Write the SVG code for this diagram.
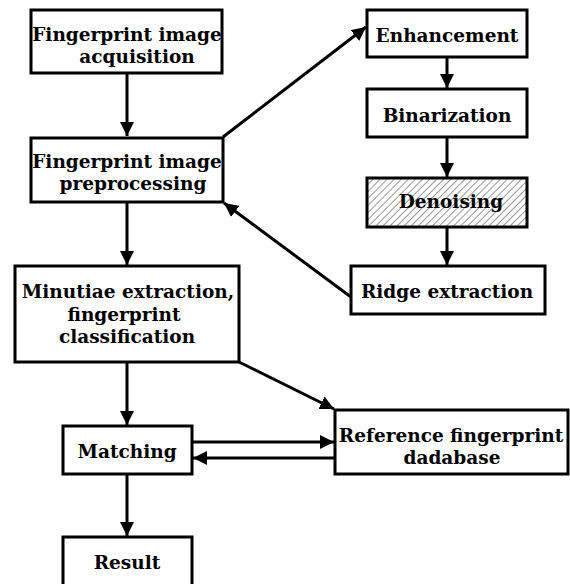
<svg xmlns="http://www.w3.org/2000/svg" width="570" height="584" viewBox="0 0 570 584">
<defs>
<style>
.box{fill:#fff;stroke:#000;stroke-width:3}
.t{font-family:"DejaVu Serif","Liberation Serif",serif;font-weight:bold;font-size:18.5px;fill:#000;text-anchor:middle}
.c{stroke:#000;stroke-width:3;fill:none}
</style>
<marker id="ah" viewBox="0 0 10 10" refX="10" refY="5" markerWidth="14" markerHeight="14" markerUnits="userSpaceOnUse" orient="auto">
<path d="M0,0 L10,5 L0,10 z" fill="#000"/>
</marker>
<pattern id="hatch" width="5" height="5" patternUnits="userSpaceOnUse" patternTransform="rotate(45)">
<rect width="5" height="5" fill="#fff"/>
<line x1="0" y1="0" x2="0" y2="5" stroke="#333" stroke-width="1"/>
</pattern>
</defs>
<rect width="570" height="584" fill="#fff"/>
<g id="connectors">
<line class="c" x1="127" y1="73" x2="127" y2="136" marker-end="url(#ah)"/>
<line class="c" x1="127" y1="202" x2="127" y2="265" marker-end="url(#ah)"/>
<line class="c" x1="127" y1="362" x2="127" y2="425" marker-end="url(#ah)"/>
<line class="c" x1="127" y1="474" x2="127" y2="536" marker-end="url(#ah)"/>
<line class="c" x1="223" y1="137" x2="366" y2="27" marker-end="url(#ah)"/>
<line class="c" x1="447" y1="57" x2="447" y2="88" marker-end="url(#ah)"/>
<line class="c" x1="447" y1="137" x2="447" y2="177" marker-end="url(#ah)"/>
<line class="c" x1="447" y1="227" x2="447" y2="265" marker-end="url(#ah)"/>
<line class="c" x1="351" y1="297" x2="224" y2="203" marker-end="url(#ah)"/>
<line class="c" x1="239" y1="362" x2="334" y2="409" marker-end="url(#ah)"/>
<line class="c" x1="192" y1="442" x2="334" y2="442" marker-end="url(#ah)"/>
<line class="c" x1="335" y1="458" x2="193" y2="458" marker-end="url(#ah)"/>
</g>
<g id="acquisition">
<rect class="box" x="31" y="10" width="191" height="63"/>
<text class="t" x="127" y="41">Fingerprint image</text>
<text class="t" x="137" y="63">acquisition</text>
</g>
<g id="preprocessing">
<rect class="box" x="31" y="138" width="192" height="64"/>
<text class="t" x="127" y="168">Fingerprint image</text>
<text class="t" x="133" y="190">preprocessing</text>
</g>
<g id="enhancement">
<rect class="box" x="367" y="10" width="160" height="47"/>
<text class="t" x="447" y="42">Enhancement</text>
</g>
<g id="binarization">
<rect class="box" x="367" y="89" width="160" height="48"/>
<text class="t" x="447" y="122">Binarization</text>
</g>
<g id="denoising">
<rect class="box" x="367" y="178" width="160" height="49" style="fill:url(#hatch)"/>
<text class="t" x="451" y="208">Denoising</text>
</g>
<g id="ridge">
<rect class="box" x="351" y="266" width="194" height="48"/>
<text class="t" x="447" y="298">Ridge extraction</text>
</g>
<g id="minutiae">
<rect class="box" x="15" y="266" width="224" height="96"/>
<text class="t" x="128" y="298">Minutiae extraction,</text>
<text class="t" x="124" y="321">fingerprint</text>
<text class="t" x="127" y="343">classification</text>
</g>
<g id="matching">
<rect class="box" x="63" y="426" width="129" height="48"/>
<text class="t" x="127" y="458">Matching</text>
</g>
<g id="database">
<rect class="box" x="335" y="410" width="233" height="64"/>
<text class="t" x="451" y="442">Reference fingerprint</text>
<text class="t" x="452" y="464">dadabase</text>
</g>
<g id="result">
<rect class="box" x="63" y="537" width="129" height="60"/>
<text class="t" x="127" y="569">Result</text>
</g>
</svg>
